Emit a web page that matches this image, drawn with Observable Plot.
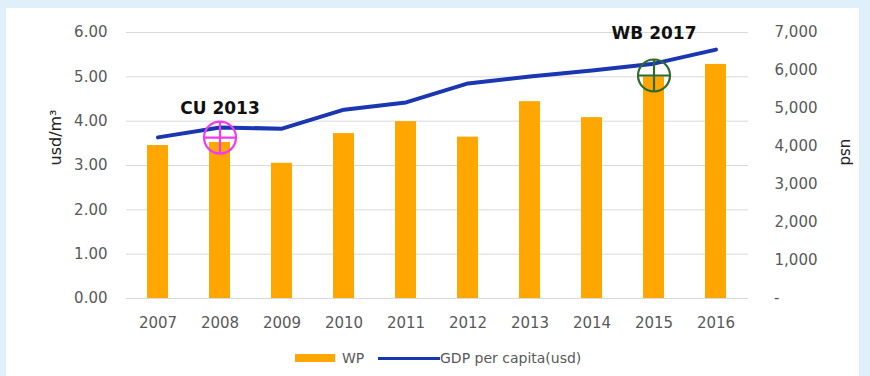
<!DOCTYPE html>
<html>
<head>
<meta charset="utf-8">
<script src="https://cdn.jsdelivr.net/npm/d3@7"></script>
<script src="https://cdn.jsdelivr.net/npm/@observablehq/plot@0.6"></script>
<style>
  html, body { margin: 0; padding: 0; }
  body { width: 870px; height: 376px; background: #e0f0fa; overflow: hidden; font-family: "DejaVu Sans", sans-serif; }
  #panel { position: absolute; left: 6px; top: 8px; width: 853px; height: 368px; background: #ffffff; }
  #chart { position: absolute; left: 0; top: 0; }
  #legend { position: absolute; left: 0; top: 349px; width: 870px; height: 20px; font-size: 14px; color: #595959; }
  .sw { position: absolute; }
</style>
</head>
<body>
<div id="panel"></div>
<div id="chart"></div>
<div id="legend">
  <div class="sw" style="left:295px;top:5px;width:40px;height:8px;background:#ffa600;"></div>
  <div class="sw" style="left:342px;top:0px;line-height:18px;">WP</div>
  <div class="sw" style="left:378px;top:8px;width:62px;height:3px;background:#1a36b0;"></div>
  <div class="sw" style="left:440px;top:0px;line-height:18px;">GDP per capita(usd)</div>
</div>
<script>
const years = ["2007","2008","2009","2010","2011","2012","2013","2014","2015","2016"];
const wp = [3.45, 3.52, 3.05, 3.72, 3.99, 3.64, 4.44, 4.08, 5.00, 5.28];
const gdp = [4240, 4500, 4470, 4970, 5160, 5660, 5840, 6000, 6180, 6550];
const leftTicks = [0, 1, 2, 3, 4, 5, 6];
const rightTicks = [0, 1000, 2000, 3000, 4000, 5000, 6000, 7000];
const annoLabels = ["CU 2013", "WB 2017"];
const annoYears = ["2008", "2015"];
const annoValues = [3.63, 5.03];
const annoLabelValues = [4.29, 5.98];
const annoColors = ["#f03cf0", "#2f6b2f"];

const LEFT_MAX = 6, RIGHT_MAX = 7000;
const toLeft = v => v * LEFT_MAX / RIGHT_MAX;

const bars = years.map((y, i) => ({year: y, wp: wp[i]}));
const line = years.map((y, i) => ({year: y, g: toLeft(gdp[i])}));
const annos = annoLabels.map((l, i) => ({label: l, year: annoYears[i], v: annoValues[i], lv: annoLabelValues[i], c: annoColors[i]}));

const crossCircle = {
  draw(context, size) {
    const r = Math.sqrt(size / Math.PI);
    context.moveTo(r, 0);
    context.arc(0, 0, r, 0, 2 * Math.PI);
    context.moveTo(-r, 0); context.lineTo(r, 0);
    context.moveTo(0, -r); context.lineTo(0, r);
  }
};

const fmtRight = d => {
  const v = Math.round(d * RIGHT_MAX / LEFT_MAX);
  return v === 0 ? "-\u2007\u2007\u2007\u2007" : d3.format(",")(v);
};

const chart = Plot.plot({
  width: 870,
  height: 335,
  marginLeft: 126,
  marginRight: 122,
  marginTop: 32,
  marginBottom: 37,
  style: {fontFamily: "DejaVu Sans, sans-serif", fontSize: "15px", color: "#595959", background: "transparent", overflow: "visible"},
  x: {domain: years, paddingInner: 0.66, paddingOuter: 0.33},
  y: {domain: [0, LEFT_MAX]},
  marks: [
    Plot.gridY(leftTicks, {stroke: "#d9d9d9", strokeOpacity: 1, strokeWidth: 1}),
    Plot.axisX({tickSize: 0, tickPadding: 19, label: null, fontSize: 15, fill: "#595959"}),
    Plot.axisY(leftTicks, {anchor: "left", tickSize: 0, tickPadding: 19, label: null, tickFormat: d3.format(".2f"), fontSize: 15, fill: "#595959"}),
    Plot.axisY(rightTicks.map(toLeft), {anchor: "right", tickSize: 0, tickPadding: 69, textAnchor: "end", label: null, tickFormat: fmtRight, fontSize: 15, fill: "#595959"}),
    Plot.barY(bars, {x: "year", y: "wp", fill: "#ffa600"}),
    Plot.line(line, {x: "year", y: "g", stroke: "#1a36b0", strokeWidth: 4, strokeLinejoin: "round", strokeLinecap: "round"}),
    Plot.dot(annos, {x: "year", y: "v", r: 16, symbol: crossCircle, stroke: "c", strokeWidth: 2.2, fill: "none"}),
    Plot.text(annos, {x: "year", y: "lv", text: "label", fontSize: 17, fontWeight: "bold", fill: "#111111"}),
    Plot.text(["usd/m\u00b3"], {frameAnchor: "left", dx: -71, rotate: -90, fontSize: 16, fill: "#222222"}),
    Plot.text(["usd"], {frameAnchor: "right", dx: 97, rotate: 90, fontSize: 15, fill: "#222222"})
  ]
});
document.getElementById("chart").appendChild(chart);
</script>
</body>
</html>
